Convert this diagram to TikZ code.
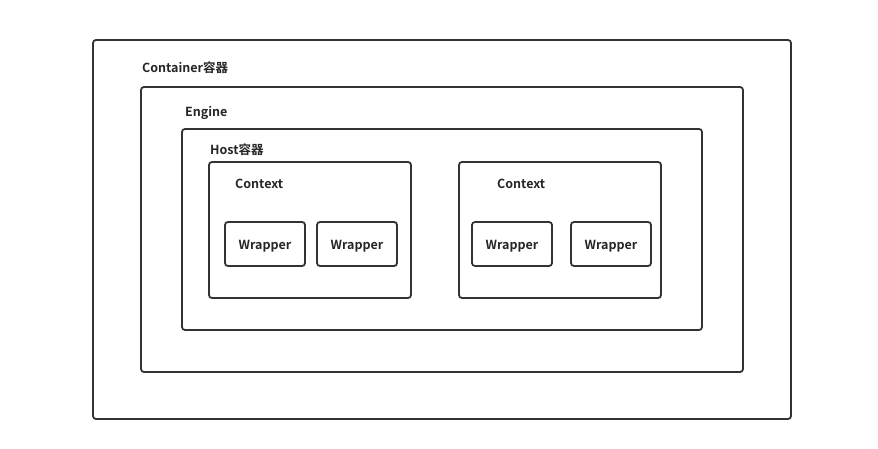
\documentclass[tikz,border=0pt]{standalone}
\usepackage{fontspec}
\setmainfont{Noto Sans CJK SC}[BoldFont={* Bold}]
\usetikzlibrary{positioning}
\colorlet{LineGray}{black!80}
\colorlet{TextGray}{black!85}
\tikzset{
	frame/.style={draw=LineGray, line width=1.8pt, rounded corners=3pt, inner sep=0pt},
	title/.style={anchor=west, inner sep=0pt, text=TextGray, font=\bfseries\fontsize{12.5}{14}\selectfont}
}
% box given by its corners in pixels
\newcommand{\pxbox}[5]{%
	\node[frame, minimum width={#4-#2}, minimum height={#5-#3}]
	(#1) at ({(#2+#4)/2},{(#3+#5)/2}) {};
}

\begin{document}
\begin{tikzpicture}[x=1pt, y=-1pt]
		
		\useasboundingbox (0,0) rectangle (878,449);
		
		% -- nested containers ---------------------------------------
		\pxbox{container}{93}{40}{791}{419}
		\node[title] (containerT) at (142,68) {Container容器};
		
		\pxbox{engine}{141}{87}{743}{372}
		\node[title] (engineT) at (185,113) {Engine};
		
		\pxbox{host}{182}{129}{702}{330}
		\node[title] (hostT) at (210,150) {Host容器};
		
		% -- Contexts --------------------------------------------------
		\pxbox{ctxA}{209}{162}{411}{298}
		\node[title] (ctxAT) at (235,184) {Context};
		
		\pxbox{ctxB}{459}{162}{661}{298}
		\node[title] (ctxBT) at (497,184) {Context};
		
		% -- Wrappers --------------------------------------------------
		\pxbox{wrapA}{225}{222}{305}{266}
		\pxbox{wrapB}{317}{222}{397}{266}
		\pxbox{wrapC}{472}{222}{552}{266}
		\pxbox{wrapD}{571}{222}{651}{266}
		\foreach \w in {wrapA,wrapB,wrapC,wrapD}{%
			\node[title, anchor=center] (\w T) at ([yshift=-2.5pt]\w) {Wrapper};
		}
		
	\end{tikzpicture}
\end{document}
